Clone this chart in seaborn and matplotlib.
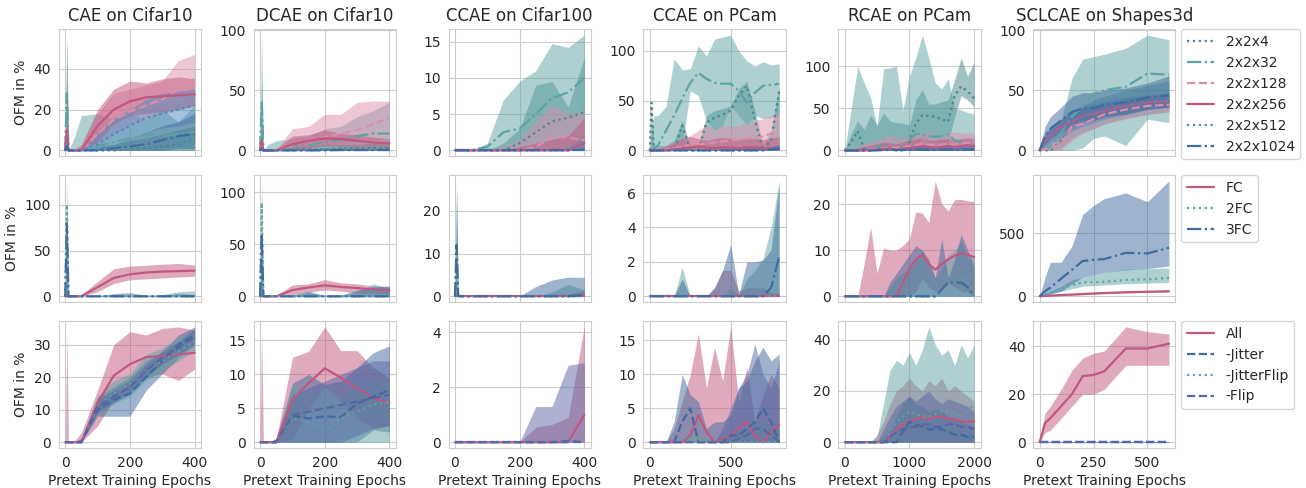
import matplotlib
matplotlib.use('Agg')
import matplotlib.pyplot as plt
import seaborn as sns

sns.set_style('whitegrid')
plt.rcParams.update({
    'font.size': 10,
    'axes.titlesize': 12,
    'axes.labelsize': 10,
    'xtick.labelsize': 10,
    'ytick.labelsize': 10,
    'legend.fontsize': 10,
})

# x grids (pretext training epochs)
x_cifar = [0, 5, 10, 25, 50, 100, 150, 200, 250, 300, 350, 400]
x_ccae_pcam = [0, 10, 25, 50, 100, 150, 200, 250, 300, 350, 400, 450, 500, 550, 600, 650, 700, 750, 800]
x_rcae_pcam = [0, 100, 200, 300, 400, 500, 600, 700, 800, 900, 1000, 1100, 1200, 1300, 1400, 1500, 1600,
               1700, 1800, 1900, 2000]
x_shapes = [0, 25, 50, 100, 150, 200, 250, 300, 400, 500, 600]

zero_cifar = [0, 0, 0, 0, 0, 0, 0, 0, 0, 0, 0, 0]
zero_ccae_pcam = [0, 0, 0, 0, 0, 0, 0, 0, 0, 0, 0, 0, 0, 0, 0, 0, 0, 0, 0]
zero_rcae_pcam = [0, 0, 0, 0, 0, 0, 0, 0, 0, 0, 0, 0, 0, 0, 0, 0, 0, 0, 0, 0, 0]
zero_shapes = [0, 0, 0, 0, 0, 0, 0, 0, 0, 0, 0]

titles = ['CAE on Cifar10', 'DCAE on Cifar10', 'CCAE on Cifar100', 'CCAE on PCam', 'RCAE on PCam',
          'SCLCAE on Shapes3d']
arch_names = ['2x2x4', '2x2x32', '2x2x128', '2x2x256', '2x2x512', '2x2x1024']
head_names = ['FC', '2FC', '3FC']
aug_names = ['All', '-Jitter', '-JitterFlip', '-Flip']

# ---------------- row 1: bottleneck size ----------------
cae_arch_mean = {
    '2x2x4': [0, 25, 0, 0, 0, 0, 0, 0.5, 1, 2, 3, 6],
    '2x2x32': [0, 28, 0, 0, 0, 2, 4, 6, 8, 7, 8, 9],
    '2x2x128': [0, 5, 0, 0, 0, 8, 15, 19, 22, 25, 30, 35],
    '2x2x256': [0, 10, 0, 0, 0, 12, 20, 24, 26, 26.5, 27, 27.5],
    '2x2x512': [0, 3, 0, 0, 0, 3, 8, 12, 16, 18, 20, 22],
    '2x2x1024': [0, 2, 0, 0, 0, 0, 1, 2, 3, 5, 7, 8],
}
cae_arch_lo = {
    '2x2x4': zero_cifar, '2x2x32': zero_cifar,
    '2x2x128': [0, 0, 0, 0, 0, 2, 8, 12, 15, 18, 20, 22],
    '2x2x256': [0, 0, 0, 0, 0, 4, 13, 17, 18, 19, 20, 22],
    '2x2x512': [0, 0, 0, 0, 0, 0, 3, 6, 9, 11, 12, 14],
    '2x2x1024': [0, 0, 0, 0, 0, 0, 0, 0, 0, 0, 1, 1],
}
cae_arch_hi = {
    '2x2x4': [0, 53, 0, 0, 1, 2, 3, 5, 6, 8, 10, 12],
    '2x2x32': [0, 56.5, 0, 5, 17, 18, 15, 18, 15, 20, 14, 22],
    '2x2x128': [0, 10, 0, 0, 2, 18, 28, 30, 32, 34, 44, 47],
    '2x2x256': [0, 33, 0, 0, 3, 20, 30, 34, 33, 35, 36, 35],
    '2x2x512': [0, 8, 0, 0, 1, 8, 16, 20, 25, 28, 29, 30],
    '2x2x1024': [0, 5, 0, 0, 0, 1, 3, 6, 9, 12, 14, 18],
}

dcae_arch_mean = {
    '2x2x4': [0, 30, 0, 0, 0, 0.5, 1, 1, 1.5, 1.5, 2, 2],
    '2x2x32': [0, 40, 0, 0, 0, 3, 4, 7, 9, 12, 14, 14],
    '2x2x128': [0, 5, 0, 0, 0, 4, 8, 11, 14, 17, 22, 27],
    '2x2x256': [0, 8, 0, 0, 0, 5, 8, 10, 9.5, 8, 6.5, 6],
    '2x2x512': [0, 2, 0, 0, 0, 0, 0, 0.5, 0.5, 0.5, 0.5, 0.5],
    '2x2x1024': [0, 1, 0, 0, 0, 0, 0, 0, 0.3, 0.3, 0.3, 0.3],
}
dcae_arch_lo = {
    '2x2x4': zero_cifar, '2x2x32': zero_cifar,
    '2x2x128': [0, 0, 0, 0, 0, 0, 2, 4, 6, 8, 8, 10],
    '2x2x256': [0, 0, 0, 0, 0, 0, 2, 4, 3, 2, 2, 1],
    '2x2x512': zero_cifar, '2x2x1024': zero_cifar,
}
dcae_arch_hi = {
    '2x2x4': [0, 60, 0, 0, 1, 3, 4, 5, 5, 5, 6, 6],
    '2x2x32': [0, 96, 0, 5, 8, 10, 12, 18, 20, 28, 33, 40],
    '2x2x128': [0, 10, 0, 0, 1, 18, 20, 30, 30, 40, 41, 41],
    '2x2x256': [0, 18, 0, 0, 1, 12, 13, 17, 14, 13, 11, 10],
    '2x2x512': [0, 5, 0, 0, 0, 1, 1, 2, 2, 2, 2, 2],
    '2x2x1024': [0, 3, 0, 0, 0, 0, 0.5, 1, 1, 1, 1, 1],
}

ccae_c100_arch_mean = {
    '2x2x4': [0, 0, 0, 0, 0, 0, 0, 1, 2.5, 4, 4.5, 5.3],
    '2x2x32': [0, 0, 0, 0, 0, 0.5, 2.5, 3, 5, 7.2, 8, 10],
    '2x2x128': [0, 0, 0, 0, 0, 0, 0, 0, 0.5, 1.8, 1.8, 1.4],
    '2x2x256': [0, 0, 0, 0, 0, 0, 0, 0, 0, 0, 0, 1.0],
    '2x2x512': [0, 0, 0, 0, 0, 0, 0, 0, 0, 0, 0, 0.3],
    '2x2x1024': zero_cifar,
}
ccae_c100_arch_lo = {n: zero_cifar for n in arch_names}
ccae_c100_arch_hi = {
    '2x2x4': [0, 0, 0, 0, 0, 0, 1, 3, 9, 9.5, 6, 12.8],
    '2x2x32': [0, 0, 0, 0, 0, 1, 7, 9.5, 11, 14.7, 14.2, 15.9],
    '2x2x128': [0, 0, 0, 0, 0, 0, 0.5, 1.5, 4, 6.3, 5, 5.5],
    '2x2x256': [0, 0, 0, 0, 0, 0, 0, 0.5, 1, 1.5, 2, 4.5],
    '2x2x512': [0, 0, 0, 0, 0, 0, 0, 0, 0, 0, 0.5, 1.7],
    '2x2x1024': [0, 0, 0, 0, 0, 0, 0, 0, 0, 0, 0, 0.5],
}

ccae_pcam_arch_mean = {
    '2x2x4': [0, 48, 0, 0, 0, 0, 25, 0, 0, 28, 33, 36, 40, 55, 65, 30, 0, 10, 60],
    '2x2x32': [0, 0, 2, 5, 20, 35, 52, 68, 78, 72, 68, 67, 67, 60, 48, 58, 65, 66, 67],
    '2x2x128': [0, 0, 0, 0, 1, 2, 4, 5, 6, 7, 8, 9, 10, 11, 12, 13, 14, 17, 19],
    '2x2x256': [0, 0, 0, 0, 0, 1, 2, 3, 4, 3, 2, 3, 3, 2, 3, 3, 2, 2, 1],
    '2x2x512': [0, 0, 0, 0, 0, 0, 0, 0, 0, 0, 0, 0, 0, 0, 0, 0, 0.5, 0.5, 1],
    '2x2x1024': [0, 0, 0, 0, 0, 0, 0, 0, 0, 0, 0, 0, 0, 0, 0, 0, 0, 1, 2],
}
ccae_pcam_arch_lo = {
    '2x2x4': zero_ccae_pcam,
    '2x2x32': [0, 0, 0, 0, 0, 0, 5, 60, 55, 30, 20, 25, 45, 35, 25, 35, 32, 33, 35],
    '2x2x128': zero_ccae_pcam, '2x2x256': zero_ccae_pcam,
    '2x2x512': zero_ccae_pcam, '2x2x1024': zero_ccae_pcam,
}
ccae_pcam_arch_hi = {
    '2x2x4': [0, 48, 5, 5, 5, 10, 30, 5, 5, 35, 40, 42, 45, 62, 70, 40, 5, 20, 65],
    '2x2x32': [0, 20, 35, 35, 44, 92, 81, 82, 105, 95, 112, 114, 116, 100, 90, 85, 89, 86, 87],
    '2x2x128': [0, 0, 2, 4, 5, 8, 12, 15, 20, 26, 20, 25, 24, 25, 27, 30, 32, 35, 38],
    '2x2x256': [0, 0, 1, 2, 4, 8, 12, 14, 12, 10, 12, 13, 12, 11, 12, 12, 11, 12, 14],
    '2x2x512': [0, 0, 0, 0, 0, 0.5, 1, 1, 1, 1, 1, 1, 1.5, 1.5, 2, 2, 2.5, 3, 4],
    '2x2x1024': [0, 0, 0, 0, 0, 0.5, 1, 1, 1, 1, 1, 1, 1.5, 1.5, 2, 3, 3, 4, 6],
}

rcae_arch_mean = {
    '2x2x4': [0, 10, 23, 2, 0, 3, 8, 2, 0, 0, 10, 32, 42, 41, 40, 37, 34, 65, 76, 70, 62],
    '2x2x32': [0, 0, 0, 0, 0, 4, 8, 3, 0, 5, 12, 20, 19, 17, 16, 17, 19, 12, 10, 8, 8],
    '2x2x128': [0, 0, 0, 0, 1, 2, 3, 4, 3, 4, 5, 6, 8, 7, 6, 7, 8, 7, 8, 9, 8],
    '2x2x256': [0, 0, 0, 0, 0, 1, 2, 2, 1, 2, 3, 4, 5, 4, 3, 4, 5, 4, 5, 6, 5],
    '2x2x512': [0, 0, 0, 0, 0, 0.5, 1, 1, 1, 1, 1, 1.5, 2, 1.5, 1, 1.5, 2, 1.5, 2, 2, 1.5],
    '2x2x1024': [0, 0, 0, 0, 0, 0, 0.5, 0.5, 0.5, 0.5, 0.5, 1, 1, 0.5, 0.5, 1, 1, 0.5, 1, 1, 1],
}
rcae_arch_lo = {
    '2x2x4': [0, 0, 0, 0, 0, 0, 0, 0, 0, 0, 0, 5, 15, 10, 10, 8, 10, 40, 65, 60, 52],
    '2x2x32': zero_rcae_pcam, '2x2x128': zero_rcae_pcam, '2x2x256': zero_rcae_pcam,
    '2x2x512': zero_rcae_pcam, '2x2x1024': zero_rcae_pcam,
}
rcae_arch_hi = {
    '2x2x4': [0, 20, 35, 25, 42, 30, 45, 35, 33, 32, 30, 60, 72, 55, 55, 58, 60, 84, 110, 88, 105],
    '2x2x32': [0, 50, 100, 80, 63, 28, 97, 98, 100, 48, 88, 110, 137, 110, 80, 73, 85, 50, 48, 45, 43],
    '2x2x128': [0, 2, 5, 8, 10, 12, 15, 18, 15, 14, 16, 18, 20, 22, 20, 18, 20, 22, 20, 21, 20],
    '2x2x256': [0, 1, 3, 5, 6, 8, 10, 9, 8, 10, 12, 14, 15, 12, 12, 13, 14, 12, 14, 15, 14],
    '2x2x512': [0, 1, 2, 3, 3, 4, 5, 4, 4, 5, 6, 6, 7, 6, 5, 6, 7, 6, 7, 8, 7],
    '2x2x1024': [0, 0, 1, 1, 2, 2, 3, 2, 2, 3, 3, 4, 4, 3, 3, 4, 4, 3, 4, 4, 4],
}

scl_arch_mean = {
    '2x2x4': [0, 0, 0, 8, 20, 26, 30, 33, 38, 42, 45],
    '2x2x32': [0, 1, 3, 15, 28, 37, 47, 50, 53, 64, 63],
    '2x2x128': [0, 1, 2, 5, 20, 22, 26, 30, 34, 37, 38],
    '2x2x256': [0, 8, 12, 20, 24, 29, 30, 33, 37, 40, 41],
    '2x2x512': [0, 8, 12, 18, 25, 28, 31, 33, 37, 40, 42],
    '2x2x1024': [0, 12, 18, 25, 32, 35, 35, 38, 40, 44, 46],
}
scl_arch_lo = {
    '2x2x4': [0, 0, 0, 2, 10, 15, 18, 22, 27, 30, 32],
    '2x2x32': [0, 0, 0, 0, 0, 2, 10, 12, 4, 26, 23],
    '2x2x128': [0, 0, 0, 0, 8, 14, 18, 22, 26, 30, 32],
    '2x2x256': [0, 3, 6, 14, 18, 23, 25, 28, 32, 35, 36],
    '2x2x512': [0, 2, 5, 10, 16, 20, 23, 26, 30, 34, 36],
    '2x2x1024': [0, 5, 10, 15, 22, 25, 25, 28, 30, 34, 36],
}
scl_arch_hi = {
    '2x2x4': [0, 1, 2, 15, 30, 37, 42, 45, 50, 54, 58],
    '2x2x32': [0, 8, 15, 25, 60, 76, 78, 80, 85, 96, 92],
    '2x2x128': [0, 2, 5, 12, 28, 30, 34, 38, 42, 44, 45],
    '2x2x256': [0, 14, 18, 26, 30, 35, 36, 38, 42, 45, 46],
    '2x2x512': [0, 14, 20, 26, 34, 36, 39, 41, 44, 46, 48],
    '2x2x1024': [0, 20, 28, 36, 45, 48, 48, 50, 52, 56, 62],
}

# ---------------- row 2: classification head ----------------
cae_head_mean = {
    'FC': [0, 0, 0, 0, 0, 10, 20, 24, 26, 27, 27.5, 28],
    '2FC': [0, 100, 0, 0, 0, 0, 0, 0, 0, 0, 0, 0],
    '3FC': [0, 80, 0, 0, 0, 0, 0, 0, 0, 0, 0, 0],
}
cae_head_lo = {
    'FC': [0, 0, 0, 0, 0, 5, 14, 18, 19, 20, 21, 22],
    '2FC': zero_cifar, '3FC': zero_cifar,
}
cae_head_hi = {
    'FC': [0, 0, 0, 0, 2, 16, 30, 33, 34, 35, 36, 34],
    '2FC': [0, 126, 0, 0, 0, 1, 2, 1, 1, 2, 5, 6],
    '3FC': [0, 105, 0, 0, 0, 0, 3, 4, 1, 1, 3, 2],
}

dcae_head_mean = {
    'FC': [0, 0, 0, 0, 0, 6, 8.5, 10.5, 9, 8, 6.5, 5.5],
    '2FC': [0, 90, 0, 0, 0, 0, 0, 0, 0, 0, 0, 0],
    '3FC': [0, 60, 0, 0, 0, 0, 0, 0, 0, 0, 0, 0],
}
dcae_head_lo = {
    'FC': [0, 0, 0, 0, 0, 2, 4, 6, 5, 3, 3, 2],
    '2FC': zero_cifar, '3FC': zero_cifar,
}
dcae_head_hi = {
    'FC': [0, 0, 0, 0, 1, 11, 12, 16, 13, 12, 10, 9],
    '2FC': [0, 111, 0, 0, 0, 2, 5, 1, 1, 4, 12, 8],
    '3FC': [0, 65, 0, 0, 0, 1, 4, 0.5, 1, 6, 9, 10],
}

ccae_c100_head_mean = {
    'FC': zero_cifar,
    '2FC': [0, 10, 0, 0, 0, 0, 0, 0, 0, 0, 0, 0],
    '3FC': [0, 12, 0, 0, 0, 0, 0, 0, 0, 0, 0, 0.3],
}
ccae_c100_head_lo = {n: zero_cifar for n in head_names}
ccae_c100_head_hi = {
    'FC': [0, 1, 0, 0, 0, 0, 0, 0, 0, 0.5, 0.5, 1.5],
    '2FC': [0, 27, 0, 0, 0, 0, 0, 0, 0, 1, 2.8, 1.5],
    '3FC': [0, 25, 0, 0, 0, 0, 0, 0, 2.3, 3.8, 4.5, 4.4],
}

ccae_pcam_head_mean = {
    'FC': zero_ccae_pcam,
    '2FC': zero_ccae_pcam,
    '3FC': [0, 0, 0, 0, 0, 0, 0, 0, 0, 0, 0, 0, 0, 0, 0, 0, 0, 0.5, 2.3],
}
ccae_pcam_head_lo = {n: zero_ccae_pcam for n in head_names}
ccae_pcam_head_hi = {
    'FC': [0, 0, 0, 0, 0, 0, 0, 0, 0, 0, 0.5, 1.5, 1.5, 0.3, 0.5, 0.5, 0.5, 0.2, 0.2],
    '2FC': [0, 0, 0, 0, 0, 0, 1.7, 0, 0, 0, 0, 0, 0.5, 0, 1, 1.5, 2.2, 4, 6.7],
    '3FC': [0, 0, 0, 0, 0, 0, 1.0, 0, 0, 0, 0.5, 1.5, 3.0, 0.1, 2.0, 2.0, 2.1, 2.7, 6.5],
}

rcae_head_mean = {
    'FC': [0, 0, 0, 0, 0, 0, 0, 0, 0, 3, 6, 8, 9, 7, 5.8, 7, 8, 8.8, 9.3, 9, 8.5],
    '2FC': [0, 0, 0, 0, 0, 0, 0, 0, 0, 0, 0, 0, 0, 0, 0, 1, 2.5, 3, 4, 3, 0.5],
    '3FC': [0, 0, 0, 0, 0, 0, 0, 0, 0, 0, 0, 0, 0, 0, 0, 1.5, 3, 3, 3, 2, 0],
}
rcae_head_lo = {
    'FC': [0, 0, 0, 0, 0, 0, 0, 0, 0, 0, 0, 1, 4, 2, 1, 2, 3, 2, 1, 1, 0],
    '2FC': zero_rcae_pcam, '3FC': zero_rcae_pcam,
}
rcae_head_hi = {
    'FC': [0, 0, 0, 7, 15, 5, 10.5, 10, 10, 11, 12.5, 18.3, 18, 16, 25, 20, 18.5, 21, 21, 20.7, 20.5],
    '2FC': [0, 0, 0, 0, 0, 0, 0, 2, 4, 5, 6, 8, 10, 7, 4, 6, 9, 10, 12, 8, 9],
    '3FC': [0, 0, 0, 0, 0, 0, 0, 3, 5, 7, 9, 11, 10, 8, 4, 12.5, 4, 8, 13.5, 10, 6.5],
}

scl_head_mean = {
    'FC': [0, 3, 6, 10, 14, 18, 22, 26, 32, 36, 40],
    '2FC': [0, 15, 30, 60, 90, 110, 112, 115, 130, 135, 145],
    '3FC': [0, 40, 70, 140, 210, 280, 290, 295, 345, 340, 385],
}
scl_head_lo = {
    'FC': [0, 1, 3, 6, 10, 13, 17, 21, 27, 31, 35],
    '2FC': [0, 8, 20, 40, 60, 80, 85, 90, 100, 105, 110],
    '3FC': [0, 10, 20, 40, 100, 150, 170, 190, 210, 220, 240],
}
scl_head_hi = {
    'FC': [0, 5, 9, 14, 18, 23, 27, 31, 37, 41, 45],
    '2FC': [0, 20, 40, 80, 130, 150, 170, 190, 215, 220, 225],
    '3FC': [0, 150, 270, 270, 400, 650, 720, 775, 820, 750, 915],
}

# ---------------- row 3: augmentations ----------------
cae_aug_mean = {
    'All': [0, 0, 0, 0, 0, 12, 20.5, 24, 26.2, 26.5, 27, 27.5],
    '-Jitter': [0, 0, 0, 0, 0, 10, 13, 15, 20, 25, 30, 33],
    '-JitterFlip': [0, 0, 0, 0, 0, 11, 15, 18, 22, 25, 28, 31],
    '-Flip': [0, 0, 0, 0, 0, 11, 14, 17, 22, 26, 29, 32.5],
}
cae_aug_lo = {
    'All': [0, 0, 0, 0, 0, 5, 13, 16, 20, 21, 19, 22.5],
    '-Jitter': [0, 0, 0, 0, 0, 8, 8, 8, 16, 21, 26, 30],
    '-JitterFlip': [0, 0, 0, 0, 0, 9, 12, 14, 19, 22, 25, 28],
    '-Flip': [0, 0, 0, 0, 0, 9, 12, 15, 20, 24, 27, 30],
}
cae_aug_hi = {
    'All': [0, 33, 0, 0, 3, 16, 30, 34, 33, 35, 35.5, 34.5],
    '-Jitter': [0, 0, 0, 0, 1, 14, 17, 20, 25, 28, 33, 35.5],
    '-JitterFlip': [0, 0, 0, 0, 1, 14, 19, 21, 27, 29, 32, 34],
    '-Flip': [0, 0, 0, 0, 1, 13, 16, 19, 24, 28, 31, 35],
}

dcae_aug_mean = {
    'All': [0, 0, 0, 0, 0, 6.3, 8.7, 10.9, 9.5, 8, 6.5, 5.8],
    '-Jitter': [0, 0, 0, 0, 0, 3.9, 3.5, 3.8, 3.7, 5.7, 6.7, 7.7],
    '-JitterFlip': [0, 0, 0, 0, 0, 3.5, 3.0, 1.8, 3.5, 4.5, 5.5, 6],
    '-Flip': [0, 0, 0, 0, 0, 4, 4.5, 5, 5.5, 6, 6.5, 7],
}
dcae_aug_lo = {
    'All': [0, 0, 0, 0, 0, 0.5, 5, 8.2, 6, 3.5, 2, 2.4],
    '-Jitter': [0, 0, 0, 0, 0, 0, 0, 0, 0, 0, 1.8, 1.5],
    '-JitterFlip': zero_cifar,
    '-Flip': [0, 0, 0, 0, 0, 0, 0, 0, 0, 1, 2, 2.5],
}
dcae_aug_hi = {
    'All': [0, 16.7, 0, 0, 0.5, 12.5, 13.4, 17, 13.5, 13.5, 11, 9.5],
    '-Jitter': [0, 0, 0, 0, 0.5, 8.7, 10, 8.5, 9, 11, 13.2, 14.2],
    '-JitterFlip': [0, 0, 0, 0, 0.5, 8.5, 7, 8.2, 6.5, 9, 9, 9.5],
    '-Flip': [0, 0, 0, 0, 0.5, 7, 8, 9, 10, 11, 12, 12],
}

ccae_c100_aug_mean = {
    'All': [0, 0, 0, 0, 0, 0, 0, 0, 0, 0, 0, 1.0],
    '-Jitter': zero_cifar,
    '-JitterFlip': zero_cifar,
    '-Flip': [0, 0, 0, 0, 0, 0, 0, 0, 0, 0, 0.05, 0],
}
ccae_c100_aug_lo = {n: zero_cifar for n in aug_names}
ccae_c100_aug_hi = {
    'All': [0, 0, 0, 0, 0, 0, 0, 0, 0.55, 0.65, 0.9, 4.2],
    '-Jitter': zero_cifar,
    '-JitterFlip': zero_cifar,
    '-Flip': [0, 0, 0, 0, 0, 0, 0, 0, 1.3, 1.3, 2.8, 2.9],
}

ccae_pcam_aug_mean = {
    'All': [0, 0, 0, 0, 0, 0, 0, 1, 4, 1.5, 0, 0.5, 1, 2, 3, 1, 0, 1.5, 2.5],
    '-Jitter': [0, 0, 0, 0, 0, 0, 3, 5, 0, 0, 0, 0, 1, 1, 2, 3, 5, 3, 0],
    '-JitterFlip': zero_ccae_pcam,
    '-Flip': [0, 0, 0, 0, 0, 0, 0, 0, 0, 0, 0, 0, 0, 0.5, 1, 2, 2, 1, 0],
}
ccae_pcam_aug_lo = {n: zero_ccae_pcam for n in aug_names}
ccae_pcam_aug_hi = {
    'All': [0, 0, 0, 0, 0, 2, 6, 10, 16, 8, 14, 9, 17, 6, 11, 3, 7, 10, 8],
    '-Jitter': [0, 0, 0, 0, 0, 3, 10, 7, 6, 2, 3, 3, 4, 8, 9, 12, 14, 12, 13],
    '-JitterFlip': [0, 0, 0, 0, 0, 0, 1, 1, 1, 0.5, 0.5, 1, 1, 2, 2, 3, 3, 2, 2],
    '-Flip': [0, 0, 0, 0, 0, 0, 0, 0, 0, 0, 0, 2, 5, 8, 10, 14.5, 10, 8, 12],
}

rcae_aug_mean = {
    'All': [0, 0, 0, 0, 0, 0, 0, 2, 5, 7, 8, 9, 10, 9, 10, 10, 9, 9, 8, 8, 8],
    '-Jitter': [0, 0, 0, 0, 0, 0, 0, 0, 0, 4, 8, 7, 6, 5, 5, 5, 4, 3, 3, 2, 2],
    '-JitterFlip': [0, 0, 0, 0, 0, 0, 0, 4, 8, 10, 12, 11, 10, 10, 11, 12, 12, 11, 10, 12, 15],
    '-Flip': [0, 0, 0, 0, 0, 0, 0, 2, 4, 5, 6, 6, 7, 7, 6, 6, 7, 7, 6, 6, 5],
}
rcae_aug_lo = {n: zero_rcae_pcam for n in aug_names}
rcae_aug_hi = {
    'All': [0, 0, 0, 0, 0, 3, 8, 15, 20, 22, 25, 22, 20, 24, 22, 25, 20, 22, 20, 18, 16],
    '-Jitter': [0, 0, 0, 0, 0, 0, 2, 5, 10, 15, 18, 15, 14, 12, 13, 12, 10, 9, 8, 7, 6],
    '-JitterFlip': [0, 0, 0, 0, 0, 2, 15, 28, 32, 30, 35, 30, 36, 45, 38, 34, 36, 30, 38, 33, 38],
    '-Flip': [0, 0, 0, 0, 0, 0, 5, 10, 14, 16, 18, 16, 18, 20, 17, 15, 17, 16, 15, 14, 12],
}

scl_aug_mean = {
    'All': [0, 8, 10, 15, 20, 27.5, 28, 29.5, 39, 39, 41],
    '-Jitter': zero_shapes, '-JitterFlip': zero_shapes, '-Flip': zero_shapes,
}
scl_aug_lo = {
    'All': [0, 4, 5, 10, 15, 20, 20, 22, 32, 32, 32],
    '-Jitter': zero_shapes, '-JitterFlip': zero_shapes, '-Flip': zero_shapes,
}
scl_aug_hi = {
    'All': [0, 12, 15, 22, 30, 35, 37, 38, 48, 46, 45],
    '-Jitter': [0, 0.3, 0.3, 0.3, 0.3, 0.3, 0.3, 0.3, 0.3, 0.3, 0.3],
    '-JitterFlip': [0, 0.3, 0.3, 0.3, 0.3, 0.3, 0.3, 0.3, 0.3, 0.3, 0.3],
    '-Flip': [0, 0.3, 0.3, 0.3, 0.3, 0.3, 0.3, 0.3, 0.3, 0.3, 0.3],
}

# ---------------- styling ----------------
teal_dark, teal, pink_light, pink = '#47888a', '#5ea3a3', '#db8eac', '#c1577e'
blue, blue_dark, purple = '#4f89bf', '#3f6b9e', '#5a66a3'
styles = {
    '2x2x4': (teal_dark, ':'), '2x2x32': (teal, '-.'), '2x2x128': (pink_light, '--'),
    '2x2x256': (pink, '-'), '2x2x512': (blue, ':'), '2x2x1024': (blue_dark, '-.'),
    'FC': (pink, '-'), '2FC': (teal, ':'), '3FC': (blue_dark, '-.'),
    'All': (pink, '-'), '-Jitter': (blue_dark, '--'), '-JitterFlip': (teal, ':'), '-Flip': (purple, '--'),
}

col_x = [x_cifar, x_cifar, x_cifar, x_ccae_pcam, x_rcae_pcam, x_shapes]
rows = [
    (arch_names, [(cae_arch_mean, cae_arch_lo, cae_arch_hi),
                  (dcae_arch_mean, dcae_arch_lo, dcae_arch_hi),
                  (ccae_c100_arch_mean, ccae_c100_arch_lo, ccae_c100_arch_hi),
                  (ccae_pcam_arch_mean, ccae_pcam_arch_lo, ccae_pcam_arch_hi),
                  (rcae_arch_mean, rcae_arch_lo, rcae_arch_hi),
                  (scl_arch_mean, scl_arch_lo, scl_arch_hi)]),
    (head_names, [(cae_head_mean, cae_head_lo, cae_head_hi),
                  (dcae_head_mean, dcae_head_lo, dcae_head_hi),
                  (ccae_c100_head_mean, ccae_c100_head_lo, ccae_c100_head_hi),
                  (ccae_pcam_head_mean, ccae_pcam_head_lo, ccae_pcam_head_hi),
                  (rcae_head_mean, rcae_head_lo, rcae_head_hi),
                  (scl_head_mean, scl_head_lo, scl_head_hi)]),
    (aug_names, [(cae_aug_mean, cae_aug_lo, cae_aug_hi),
                 (dcae_aug_mean, dcae_aug_lo, dcae_aug_hi),
                 (ccae_c100_aug_mean, ccae_c100_aug_lo, ccae_c100_aug_hi),
                 (ccae_pcam_aug_mean, ccae_pcam_aug_lo, ccae_pcam_aug_hi),
                 (rcae_aug_mean, rcae_aug_lo, rcae_aug_hi),
                 (scl_aug_mean, scl_aug_lo, scl_aug_hi)]),
]

fig, axes = plt.subplots(3, 6, figsize=(13.06, 4.88), dpi=100, sharex='col')
fig.subplots_adjust(left=0.045, right=0.9, top=0.94, bottom=0.082, wspace=0.37, hspace=0.15)

for r, (names, panels) in enumerate(rows):
    for c, (mean, lo, hi) in enumerate(panels):
        ax = axes[r, c]
        x = col_x[c]
        for name in names:
            color, ls = styles[name]
            ax.fill_between(x, lo[name], hi[name], color=color, alpha=0.5, lw=0)
            sns.lineplot(x=x, y=mean[name], ax=ax, color=color, linestyle=ls, lw=1.6,
                         errorbar=None, legend=False, label=name)
        ax.tick_params(pad=2)
        if r == 0:
            ax.set_title(titles[c])
        if c == 0:
            ax.set_ylabel('OFM in %')
        if r == 2:
            ax.set_xlabel('Pretext Training Epochs', labelpad=3)
        if c == 5:
            ax.legend(loc='upper left', bbox_to_anchor=(1.04, 1.0), borderaxespad=0)

fig.savefig('out.png', dpi=100)
